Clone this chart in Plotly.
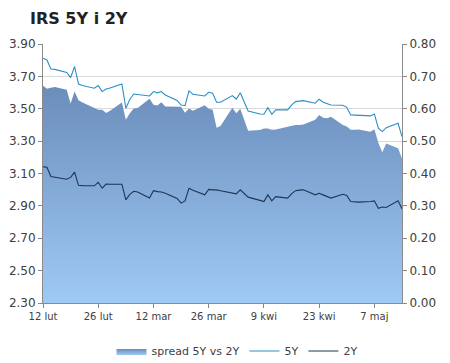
import plotly.graph_objects as go

dates = [
    "2013-02-12", "2013-02-13", "2013-02-14", "2013-02-15", "2013-02-18", "2013-02-19",
    "2013-02-20", "2013-02-21", "2013-02-22", "2013-02-25", "2013-02-26", "2013-02-27",
    "2013-02-28", "2013-03-01", "2013-03-04", "2013-03-05", "2013-03-06", "2013-03-07",
    "2013-03-08", "2013-03-11", "2013-03-12", "2013-03-13", "2013-03-14", "2013-03-15",
    "2013-03-18", "2013-03-19", "2013-03-20", "2013-03-21", "2013-03-22", "2013-03-25",
    "2013-03-26", "2013-03-27", "2013-03-28", "2013-03-29", "2013-04-01", "2013-04-02",
    "2013-04-03", "2013-04-04", "2013-04-05", "2013-04-08", "2013-04-09", "2013-04-10",
    "2013-04-11", "2013-04-12", "2013-04-15", "2013-04-16", "2013-04-17", "2013-04-18",
    "2013-04-19", "2013-04-22", "2013-04-23", "2013-04-24", "2013-04-25", "2013-04-26",
    "2013-04-29", "2013-04-30", "2013-05-01", "2013-05-02", "2013-05-03", "2013-05-06",
    "2013-05-07", "2013-05-08", "2013-05-09", "2013-05-10", "2013-05-13", "2013-05-14",
]

five_y = [
    3.812, 3.801, 3.746, 3.743, 3.724, 3.692, 3.761, 3.653, 3.644, 3.627,
    3.643, 3.606, 3.622, 3.628, 3.653, 3.503, 3.557, 3.591, 3.588, 3.579,
    3.606, 3.598, 3.606, 3.585, 3.551, 3.523, 3.519, 3.610, 3.590, 3.579,
    3.602, 3.596, 3.540, 3.540, 3.581, 3.560, 3.599, 3.542, 3.486, 3.468,
    3.466, 3.507, 3.466, 3.493, 3.493, 3.523, 3.544, 3.547, 3.550, 3.534,
    3.559, 3.540, 3.530, 3.523, 3.522, 3.509, 3.462, 3.460, 3.459, 3.456,
    3.468, 3.380, 3.359, 3.383, 3.410, 3.328,
]

two_y = [
    3.141, 3.139, 3.081, 3.076, 3.065, 3.076, 3.108, 3.027, 3.025, 3.024,
    3.046, 3.009, 3.035, 3.034, 3.034, 2.937, 2.971, 2.990, 2.986, 2.948,
    2.994, 2.988, 2.986, 2.978, 2.946, 2.917, 2.931, 3.009, 2.996, 2.968,
    3.002, 2.999, 2.999, 2.993, 2.978, 2.974, 2.999, 2.974, 2.954, 2.934,
    2.927, 2.968, 2.931, 2.957, 2.948, 2.974, 2.994, 2.997, 2.999, 2.968,
    2.978, 2.968, 2.959, 2.948, 2.972, 2.964, 2.927, 2.925, 2.923, 2.927,
    2.931, 2.885, 2.893, 2.890, 2.932, 2.882,
]

spread = [
    0.671, 0.662, 0.665, 0.667, 0.659, 0.616, 0.653, 0.626, 0.619, 0.603,
    0.597, 0.597, 0.587, 0.594, 0.619, 0.566, 0.586, 0.601, 0.602, 0.631,
    0.612, 0.610, 0.620, 0.607, 0.605, 0.606, 0.588, 0.601, 0.594, 0.611,
    0.600, 0.597, 0.541, 0.547, 0.603, 0.586, 0.600, 0.568, 0.532, 0.534,
    0.539, 0.539, 0.535, 0.536, 0.545, 0.549, 0.550, 0.550, 0.551, 0.566,
    0.581, 0.572, 0.571, 0.575, 0.550, 0.545, 0.535, 0.535, 0.536, 0.529,
    0.537, 0.495, 0.466, 0.493, 0.478, 0.446,
]

tick_dates = ["2013-02-12", "2013-02-26", "2013-03-12", "2013-03-26",
              "2013-04-09", "2013-04-23", "2013-05-07"]
tick_labels = ["12 lut", "26 lut", "12 mar", "26 mar", "9 kwi", "23 kwi", "7 maj"]
left_ticks = [2.30, 2.50, 2.70, 2.90, 3.10, 3.30, 3.50, 3.70, 3.90]
right_ticks = [0.00, 0.10, 0.20, 0.30, 0.40, 0.50, 0.60, 0.70, 0.80]

fig = go.Figure()
fig.add_trace(go.Scatter(
    x=dates, y=spread, name="spread 5Y vs 2Y", mode="lines",
    line=dict(width=0, color="#7fa6d6"), fill="tozeroy",
    fillgradient=dict(type="vertical",
                      colorscale=[[0, "#9fcaf5"], [1, "#6a8cba"]],
                      start=0, stop=0.68),
    yaxis="y",
))
fig.add_trace(go.Scatter(
    x=dates, y=five_y, name="5Y", mode="lines",
    line=dict(color="#2a8fc7", width=1.1), yaxis="y2",
))
fig.add_trace(go.Scatter(
    x=dates, y=two_y, name="2Y", mode="lines",
    line=dict(color="#1d3656", width=1.1), yaxis="y2",
))

axis_grey = "#8a8a8a"
fig.update_layout(
    width=450, height=363,
    margin=dict(l=43, r=48, t=44, b=60, autoexpand=False),
    paper_bgcolor="white", plot_bgcolor="white",
    font=dict(family="DejaVu Sans", color="#404040"),
    title=dict(text="<b>IRS 5Y i 2Y</b>", xref="container", x=30 / 450,
               xanchor="left", yref="container", y=1 - 18 / 363, yanchor="middle",
               font=dict(family="DejaVu Sans", size=16, color="#222222")),
    xaxis=dict(type="date", range=[dates[0], dates[-1]],
               tickvals=tick_dates, ticktext=tick_labels,
               ticks="outside", ticklen=4, tickcolor=axis_grey, automargin=False,
               showline=True, linecolor=axis_grey, showgrid=False, zeroline=False,
               tickfont=dict(size=10)),
    yaxis=dict(side="right", range=[0, 0.8], tickvals=right_ticks, tickformat=".2f",
               ticks="outside", ticklen=4, tickcolor=axis_grey, automargin=False,
               showline=True, linecolor=axis_grey, showgrid=False, zeroline=False,
               tickfont=dict(size=12)),
    yaxis2=dict(overlaying="y", side="left", range=[2.3, 3.9], tickvals=left_ticks,
                tickformat=".2f", ticks="outside", ticklen=4, tickcolor=axis_grey,
                automargin=False,
                showline=True, linecolor=axis_grey, showgrid=True, gridcolor="#d9d9d9",
                zeroline=False, tickfont=dict(size=12)),
    legend=dict(orientation="h", xref="container", x=237 / 450, xanchor="center",
                yref="container", y=1 - 351 / 363, yanchor="middle",
                font=dict(size=11), itemwidth=30),
    showlegend=True,
)

fig.write_html("out.html", config={"displayModeBar": False},
               post_script="document.body.style.margin='0';")
